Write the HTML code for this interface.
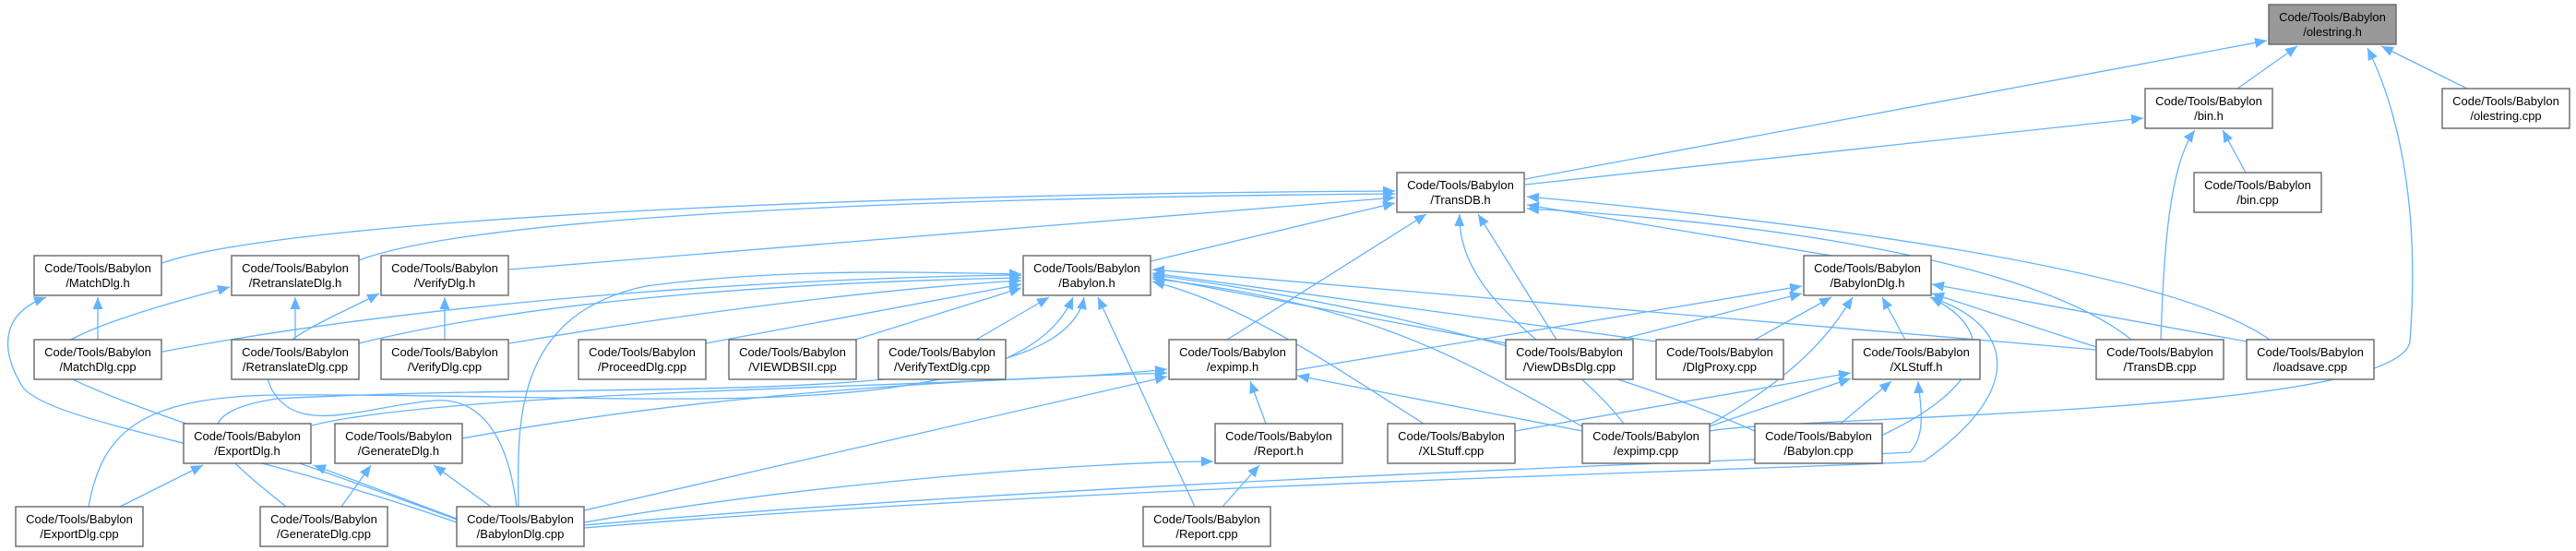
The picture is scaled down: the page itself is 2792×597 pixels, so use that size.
<!DOCTYPE html>
<html><head><meta charset="utf-8"><style>
html,body{margin:0;padding:0;background:#fff;}
svg{display:block}
text{font-family:"Liberation Sans",Arial,sans-serif;font-size:13px;fill:#000;text-anchor:middle}
.e{fill:none;stroke:#63b3ff;stroke-width:1.3}
.n{fill:#fff;stroke:#666;stroke-width:1.4}
</style></head><body>
<svg width="2792" height="597" viewBox="0 0 2792 597" xmlns="http://www.w3.org/2000/svg">
<defs><marker id="a" markerUnits="userSpaceOnUse" markerWidth="14" markerHeight="12" refX="13" refY="6" orient="auto"><path d="M0,0.5 L13,6 L0,11.5 z" fill="#63b3ff"/></marker></defs>
<g class="e" marker-end="url(#a)">
<path d="M2425,96 L2490,50"/>
<path d="M2674,96 L2581,50"/>
<path d="M1653,194 L2457,44"/>
<path d="M1853,467 C1950,450 2600,450 2612,370 C2625,200 2590,100 2566,52"/>
<path d="M1653,200 L2323,128"/>
<path d="M2434,187 L2409,141"/>
<path d="M2342,368 C2345,280 2350,180 2379,141"/>
<path d="M176,285 C300,240 900,210 1512,207"/>
<path d="M389,282 C500,240 900,215 1512,210"/>
<path d="M552,292 L1512,214"/>
<path d="M1247,283 L1512,220"/>
<path d="M1985,277 L1655,222"/>
<path d="M1330,368 L1546,232"/>
<path d="M1687,368 L1602,232"/>
<path d="M1760,459 C1700,380 1580,330 1582,232"/>
<path d="M2310,368 C2200,280 1900,240 1655,226"/>
<path d="M2460,368 C2350,290 1950,240 1655,213"/>
<path d="M106,368 L106,322"/>
<path d="M495,566 C250,480 60,460 25,420 C0,380 0,340 50,322"/>
<path d="M320,368 L320,322"/>
<path d="M495,563 C300,490 100,430 60,400 C40,380 80,355 249,311"/>
<path d="M482,368 L482,322"/>
<path d="M560,549 C550,470 520,430 470,434 C400,440 330,470 300,430 C260,380 350,350 411,318"/>
<path d="M176,381 C500,320 900,300 1107,298"/>
<path d="M389,372 C600,320 900,305 1107,301"/>
<path d="M552,372 C800,330 1000,310 1107,304"/>
<path d="M765,372 L1107,308"/>
<path d="M927,368 L1107,312"/>
<path d="M1058,368 L1137,322"/>
<path d="M562,549 C560,450 560,340 700,310 C850,290 1000,295 1107,297"/>
<path d="M96,549 C110,470 150,430 300,428 C700,425 1100,470 1163,322"/>
<path d="M310,549 C250,500 180,450 300,432 C700,410 1150,450 1175,322"/>
<path d="M338,461 C500,420 1100,420 1265,400"/>
<path d="M501,475 C800,420 1100,410 1265,404"/>
<path d="M130,549 L220,504"/>
<path d="M495,562 L340,504"/>
<path d="M370,549 L402,504"/>
<path d="M532,549 L470,504"/>
<path d="M633,553 L1265,408"/>
<path d="M1295,549 L1190,322"/>
<path d="M633,566 C900,520 1200,500 1315,500"/>
<path d="M1325,549 L1365,504"/>
<path d="M1372,459 L1355,413"/>
<path d="M633,569 C1200,520 1900,500 2070,490 C2090,470 2080,430 2079,413"/>
<path d="M633,572 C1200,525 1900,510 2085,500 C2200,420 2180,350 2092,322"/>
<path d="M1404,401 L1953,310"/>
<path d="M1755,368 L1953,318"/>
<path d="M1902,368 L1985,322"/>
<path d="M2065,368 L2040,322"/>
<path d="M2272,376 L2094,318"/>
<path d="M2435,370 L2094,308"/>
<path d="M1853,460 C1960,400 1990,350 2008,322"/>
<path d="M2039,472 C2150,420 2170,360 2092,322"/>
<path d="M1642,467 L2006,404"/>
<path d="M1853,462 L2006,410"/>
<path d="M1995,459 L2050,413"/>
<path d="M1715,467 L1406,407"/>
<path d="M1632,372 L1249,300"/>
<path d="M1795,370 L1249,296"/>
<path d="M2272,379 L1249,292"/>
<path d="M1543,459 C1450,400 1350,330 1249,305"/>
<path d="M1715,462 C1600,400 1500,330 1249,302"/>
<path d="M1902,467 C1750,400 1500,330 1249,298"/>
</g>
<g>
<rect class="n" x="2459" y="5" width="138" height="43" style="fill:#999"/><text x="2528" y="23">Code/Tools/Babylon</text><text x="2528" y="39">/olestring.h</text>
<rect class="n" x="2325" y="96" width="138" height="43"/><text x="2394" y="114">Code/Tools/Babylon</text><text x="2394" y="130">/bin.h</text>
<rect class="n" x="2647" y="96" width="138" height="43"/><text x="2716" y="114">Code/Tools/Babylon</text><text x="2716" y="130">/olestring.cpp</text>
<rect class="n" x="1514" y="187" width="138" height="43"/><text x="1583" y="205">Code/Tools/Babylon</text><text x="1583" y="221">/TransDB.h</text>
<rect class="n" x="2378" y="187" width="138" height="43"/><text x="2447" y="205">Code/Tools/Babylon</text><text x="2447" y="221">/bin.cpp</text>
<rect class="n" x="37" y="277" width="138" height="43"/><text x="106" y="295">Code/Tools/Babylon</text><text x="106" y="311">/MatchDlg.h</text>
<rect class="n" x="251" y="277" width="138" height="43"/><text x="320" y="295">Code/Tools/Babylon</text><text x="320" y="311">/RetranslateDlg.h</text>
<rect class="n" x="413" y="277" width="138" height="43"/><text x="482" y="295">Code/Tools/Babylon</text><text x="482" y="311">/VerifyDlg.h</text>
<rect class="n" x="1109" y="277" width="138" height="43"/><text x="1178" y="295">Code/Tools/Babylon</text><text x="1178" y="311">/Babylon.h</text>
<rect class="n" x="1955" y="277" width="138" height="43"/><text x="2024" y="295">Code/Tools/Babylon</text><text x="2024" y="311">/BabylonDlg.h</text>
<rect class="n" x="37" y="368" width="138" height="43"/><text x="106" y="386">Code/Tools/Babylon</text><text x="106" y="402">/MatchDlg.cpp</text>
<rect class="n" x="251" y="368" width="138" height="43"/><text x="320" y="386">Code/Tools/Babylon</text><text x="320" y="402">/RetranslateDlg.cpp</text>
<rect class="n" x="413" y="368" width="138" height="43"/><text x="482" y="386">Code/Tools/Babylon</text><text x="482" y="402">/VerifyDlg.cpp</text>
<rect class="n" x="627" y="368" width="138" height="43"/><text x="696" y="386">Code/Tools/Babylon</text><text x="696" y="402">/ProceedDlg.cpp</text>
<rect class="n" x="790" y="368" width="138" height="43"/><text x="859" y="386">Code/Tools/Babylon</text><text x="859" y="402">/VIEWDBSII.cpp</text>
<rect class="n" x="952" y="368" width="138" height="43"/><text x="1021" y="386">Code/Tools/Babylon</text><text x="1021" y="402">/VerifyTextDlg.cpp</text>
<rect class="n" x="1267" y="368" width="138" height="43"/><text x="1336" y="386">Code/Tools/Babylon</text><text x="1336" y="402">/expimp.h</text>
<rect class="n" x="1632" y="368" width="138" height="43"/><text x="1701" y="386">Code/Tools/Babylon</text><text x="1701" y="402">/ViewDBsDlg.cpp</text>
<rect class="n" x="1795" y="368" width="138" height="43"/><text x="1864" y="386">Code/Tools/Babylon</text><text x="1864" y="402">/DlgProxy.cpp</text>
<rect class="n" x="2008" y="368" width="138" height="43"/><text x="2077" y="386">Code/Tools/Babylon</text><text x="2077" y="402">/XLStuff.h</text>
<rect class="n" x="2272" y="368" width="138" height="43"/><text x="2341" y="386">Code/Tools/Babylon</text><text x="2341" y="402">/TransDB.cpp</text>
<rect class="n" x="2435" y="368" width="138" height="43"/><text x="2504" y="386">Code/Tools/Babylon</text><text x="2504" y="402">/loadsave.cpp</text>
<rect class="n" x="199" y="459" width="138" height="43"/><text x="268" y="477">Code/Tools/Babylon</text><text x="268" y="493">/ExportDlg.h</text>
<rect class="n" x="363" y="459" width="138" height="43"/><text x="432" y="477">Code/Tools/Babylon</text><text x="432" y="493">/GenerateDlg.h</text>
<rect class="n" x="1317" y="459" width="138" height="43"/><text x="1386" y="477">Code/Tools/Babylon</text><text x="1386" y="493">/Report.h</text>
<rect class="n" x="1504" y="459" width="138" height="43"/><text x="1573" y="477">Code/Tools/Babylon</text><text x="1573" y="493">/XLStuff.cpp</text>
<rect class="n" x="1715" y="459" width="138" height="43"/><text x="1784" y="477">Code/Tools/Babylon</text><text x="1784" y="493">/expimp.cpp</text>
<rect class="n" x="1902" y="459" width="138" height="43"/><text x="1971" y="477">Code/Tools/Babylon</text><text x="1971" y="493">/Babylon.cpp</text>
<rect class="n" x="17" y="549" width="138" height="43"/><text x="86" y="567">Code/Tools/Babylon</text><text x="86" y="583">/ExportDlg.cpp</text>
<rect class="n" x="282" y="549" width="138" height="43"/><text x="351" y="567">Code/Tools/Babylon</text><text x="351" y="583">/GenerateDlg.cpp</text>
<rect class="n" x="495" y="549" width="138" height="43"/><text x="564" y="567">Code/Tools/Babylon</text><text x="564" y="583">/BabylonDlg.cpp</text>
<rect class="n" x="1239" y="549" width="138" height="43"/><text x="1308" y="567">Code/Tools/Babylon</text><text x="1308" y="583">/Report.cpp</text>
</g>
</svg>
</body></html>
